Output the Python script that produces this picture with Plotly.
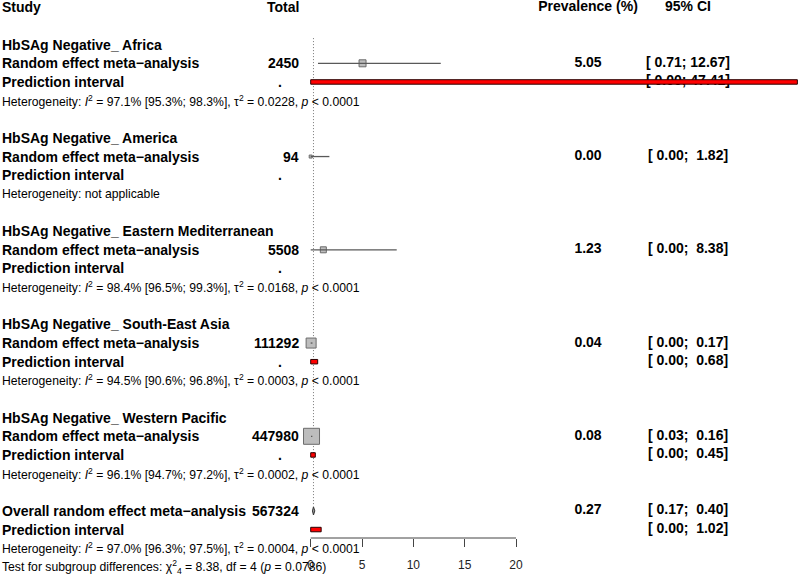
import plotly.graph_objects as go

# ---------------- data ----------------
groups = ["HbSAg Negative_ Africa", "HbSAg Negative_ America",
          "HbSAg Negative_ Eastern Mediterranean", "HbSAg Negative_ South-East Asia",
          "HbSAg Negative_ Western Pacific"]
totals = [2450, 94, 5508, 111292, 447980]
prev = [5.05, 0.00, 1.23, 0.04, 0.08]
ci_low = [0.71, 0.00, 0.00, 0.00, 0.03]
ci_high = [12.67, 1.82, 8.38, 0.17, 0.16]
pi_low = [0.00, None, None, 0.00, 0.00]
pi_high = [47.41, None, None, 0.68, 0.45]
het_i2 = ["97.1% [95.3%; 98.3%]", None, "98.4% [96.5%; 99.3%]",
          "94.5% [90.6%; 96.8%]", "96.1% [94.7%; 97.2%]"]
het_tau2 = ["0.0228", None, "0.0168", "0.0003", "0.0002"]

overall_total = 567324
overall_est = 0.27
overall_low = 0.17
overall_high = 0.40
overall_pi_low = 0.00
overall_pi_high = 1.02
overall_i2 = "97.0% [96.3%; 97.5%]"
overall_tau2 = "0.0004"
subgroup_chi2 = "8.38"
subgroup_df = "4"
subgroup_p = "0.0786"

tick_vals = [0, 5, 10, 15, 20]

# ---------------- styles / layout helpers ----------------
square_sizes = [7, 3, 6, 10, 16]
FONT = "Liberation Sans, Arial, sans-serif"
W, H = 800, 576
PX0, PXU = 310.7, 10.265          # pixel of x=0, pixels per unit
ROW0, ROWH = 7.35, 18.65          # pixel of row 0, pixels per row
PLOT_BOTTOM = 538

x_lo = (0 - PX0) / PXU
x_hi = (W - PX0) / PXU
y_top = (0 - ROW0) / ROWH
y_bot = (PLOT_BOTTOM - ROW0) / ROWH


def xv(px):
    return (px - PX0) / PXU


def row_paper(row):
    return (y_bot - row) / (y_bot - y_top)


def fmt_ci(lo, hi):
    def part(v, width):
        s = f"{v:.2f}"
        return "\u00a0" * (width - len(s)) + s
    return f"[\u00a0{part(lo, 4)};\u00a0{part(hi, 5)}]"


def het_text(i2, tau2):
    if i2 is None:
        return "Heterogeneity: not applicable"
    return (f"Heterogeneity: <i>I</i><sup>2</sup> = {i2}, \u03c4<sup>2</sup> = {tau2}, "
            f"<i>p</i> &lt; 0.0001")


fig = go.Figure()
ann = []
shapes = []


def add_ann(row, px, txt, anchor, size=14, bold=True):
    ann.append(dict(x=px / W, xref="paper", y=row_paper(row), yref="paper",
                    xanchor=anchor, yanchor="middle",
                    text=f"<b>{txt}</b>" if bold else txt, showarrow=False,
                    font=dict(family=FONT, size=size, color="black")))


def left_text(row, txt, bold=True, size=14):
    add_ann(row, 0, txt, "left", size=size, bold=bold)


def total_text(row, txt):
    add_ann(row, 301, txt, "right")


def dot_text(row):
    add_ann(row, 280, ".", "center")


right_x, right_y, right_t = [], [], []


def right_text(row, px, txt):
    right_x.append(xv(px))
    right_y.append(row)
    right_t.append(f"<b>{txt}</b>")


# header
left_text(0, "Study")
total_text(0, "Total")
right_text(0, 588, "Prevalence (%)")
right_text(0, 688, "95% CI")

for k, g in enumerate(groups):
    r = 2 + 5 * k
    left_text(r, g)
    left_text(r + 1, "Random effect meta\u2212analysis")
    total_text(r + 1, str(totals[k]))
    right_text(r + 1, 588, f"{prev[k]:.2f}")
    right_text(r + 1, 688, fmt_ci(ci_low[k], ci_high[k]))
    left_text(r + 2, "Prediction interval")
    dot_text(r + 2)
    left_text(r + 3, het_text(het_i2[k], het_tau2[k]), bold=False, size=12.2)

    # square + CI line
    fig.add_trace(go.Scatter(x=[prev[k]], y=[r + 1], mode="markers",
                             marker=dict(symbol="square", size=square_sizes[k], color="#bdbdbd",
                                         line=dict(color="#6b6b6b", width=1)),
                             showlegend=False, hoverinfo="skip"))
    fig.add_trace(go.Scatter(x=[ci_low[k], ci_high[k]], y=[r + 1, r + 1], mode="lines",
                             line=dict(color="#595959", width=1.3),
                             showlegend=False, hoverinfo="skip"))
    if pi_low[k] is not None:
        right_text(r + 2, 688, fmt_ci(pi_low[k], pi_high[k]))
        shapes.append(dict(type="rect", xref="x", yref="y", x0=pi_low[k], x1=pi_high[k],
                           y0=r + 2 - 0.12, y1=r + 2 + 0.12, fillcolor="red",
                           line=dict(color="#2a0000", width=1), layer="above"))

# overall
ro = 27
left_text(ro, "Overall random effect meta\u2212analysis")
total_text(ro, str(overall_total))
right_text(ro, 588, f"{overall_est:.2f}")
right_text(ro, 688, fmt_ci(overall_low, overall_high))
left_text(ro + 1, "Prediction interval")
right_text(ro + 1, 688, fmt_ci(overall_pi_low, overall_pi_high))
left_text(ro + 2, het_text(overall_i2, overall_tau2), bold=False, size=12.2)
left_text(ro + 3, f"Test for subgroup differences: \u03c7<sup>2</sup><sub>{subgroup_df}</sub> = {subgroup_chi2}, "
                  f"df = {subgroup_df} (<i>p</i> = {subgroup_p})", bold=False, size=12.2)

fig.add_trace(go.Scatter(x=[overall_low, overall_est, overall_high, overall_est, overall_low],
                         y=[ro, ro - 0.22, ro, ro + 0.22, ro], mode="lines", fill="toself",
                         fillcolor="#9a9a9a", line=dict(color="#333333", width=1),
                         showlegend=False, hoverinfo="skip"))
shapes.append(dict(type="rect", xref="x", yref="y", x0=overall_pi_low, x1=overall_pi_high,
                   y0=ro + 1 - 0.12, y1=ro + 1 + 0.12, fillcolor="red",
                   line=dict(color="#2a0000", width=1), layer="above"))

# reference (overall) dotted line
shapes.append(dict(type="line", xref="x", yref="y", x0=overall_est, x1=overall_est,
                   y0=1.65, y1=26.75, line=dict(color="#777777", width=1, dash="1px,2px"),
                   layer="below"))
# axis line between first and last tick
shapes.append(dict(type="line", xref="x", yref="paper", x0=tick_vals[0], x1=tick_vals[-1],
                   y0=0, y1=0, line=dict(color="#444444", width=1)))

fig.add_trace(go.Scatter(x=right_x, y=right_y, text=right_t, mode="text",
                         textposition="middle center",
                         textfont=dict(family=FONT, size=14, color="black"),
                         showlegend=False, hoverinfo="skip", cliponaxis=False))

fig.update_layout(
    width=W, height=H,
    margin=dict(l=0, r=0, t=0, b=H - PLOT_BOTTOM),
    plot_bgcolor="white", paper_bgcolor="white",
    annotations=ann, shapes=shapes,
    xaxis=dict(range=[x_lo, x_hi], tickvals=tick_vals, ticks="outside", ticklen=8,
               tickwidth=1, tickcolor="#444444", showgrid=False, zeroline=False,
               showline=False, tickfont=dict(family=FONT, size=12, color="#222222"),
               ticklabelstandoff=8, fixedrange=True),
    yaxis=dict(range=[y_bot, y_top], visible=False, showgrid=False, zeroline=False,
               fixedrange=True),
    showlegend=False,
)

fig.write_html("out.html", config={"displayModeBar": False},
               post_script="document.body.style.margin='0px';document.body.style.overflow='hidden';")
